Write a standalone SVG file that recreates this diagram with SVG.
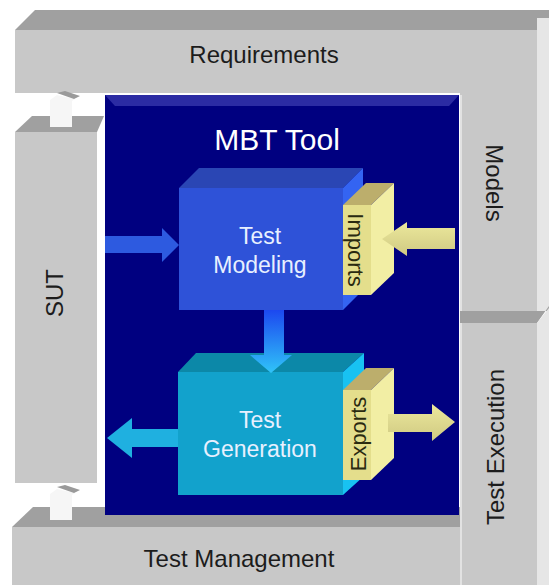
<svg xmlns="http://www.w3.org/2000/svg" width="549" height="585" viewBox="0 0 549 585">
<defs>
<style>
.lbl{font-family:"Liberation Sans",Arial,sans-serif;font-size:24px;fill:#1c1c1c}
.wl{font-family:"Liberation Sans",Arial,sans-serif;font-size:23px;fill:#e8f0ff;text-anchor:middle}
.yl{font-family:"Liberation Sans",Arial,sans-serif;font-size:22px;fill:#2a2a10;text-anchor:middle}
.gf{fill:#c8c8c8}
.gt{fill:#a0a0a0}
.gs{fill:#e6e6e6}
.yf{fill:#e4de8c}
.yt{fill:#bcae6c}
.ys{fill:#f2eea4}
</style>
<linearGradient id="down" x1="0" y1="0" x2="0" y2="1">
<stop offset="0" stop-color="#1c48f0"/>
<stop offset="1" stop-color="#30c4f8"/>
</linearGradient>
<linearGradient id="yarr" x1="0" y1="0" x2="0" y2="1">
<stop offset="0" stop-color="#ece89c"/>
<stop offset="1" stop-color="#cfc982"/>
</linearGradient>
</defs>
<rect width="549" height="585" fill="#ffffff"/>

<g id="requirements">
<polygon class="gt" points="15,30 35,10 549,10 549,18 537,30"/>
<rect class="gf" x="15" y="30" width="522" height="63"/>
<text class="lbl" x="264" y="63" text-anchor="middle">Requirements</text>
</g>

<g id="models">
<rect class="gf" x="460" y="93" width="77" height="218"/>
<rect class="gs" x="537" y="18" width="12" height="293"/>
<line x1="461" y1="95" x2="461" y2="311" stroke="#e2e2e2" stroke-width="2"/>
<text class="lbl" transform="translate(486,183) rotate(90)" text-anchor="middle">Models</text>
</g>

<g id="test-execution">
<polygon class="gt" points="460,311 549,311 549,306 537,323 460,323"/>
<rect class="gf" x="460" y="323" width="77" height="262"/>
<polygon class="gs" points="537,323 549,308 549,585 537,585"/>
<line x1="461" y1="323" x2="461" y2="585" stroke="#e2e2e2" stroke-width="2"/>
<text class="lbl" transform="translate(504,447) rotate(-90)" text-anchor="middle">Test Execution</text>
</g>

<g id="sut">
<polygon class="gt" points="15,132 32,116 104,116 97,132"/>
<rect class="gf" x="15" y="132" width="82" height="351"/>
<text class="lbl" transform="translate(63,293) rotate(-90)" text-anchor="middle">SUT</text>
</g>

<g id="test-management">
<polygon class="gt" points="12,527 33,507 460,507 460,527"/>
<rect class="gf" x="12" y="527" width="448" height="58"/>
<text class="lbl" x="239" y="567" text-anchor="middle">Test Management</text>
</g>

<g id="mbt-tool">
<rect x="105" y="95" width="354" height="420" fill="#000080"/>
<polygon points="105,95 459,95 449,106 115,106" fill="#2b2ba3"/>
<text x="277" y="150" text-anchor="middle" style="font-family:'Liberation Sans',Arial,sans-serif;font-size:30px;fill:#ffffff">MBT Tool</text>
</g>

<g id="test-modeling">
<polygon points="179,188 199,168 363,168 343,188" fill="#2a46b4"/>
<polygon points="343,188 363,168 363,290 343,310" fill="#3464f2"/>
<rect x="179" y="188" width="164" height="122" fill="#2e52d8"/>
<text class="wl" x="260" y="244">Test</text>
<text class="wl" x="260" y="273">Modeling</text>
</g>

<g id="imports">
<polygon class="yt" points="343,205 366,183 394,183 371,205"/>
<polygon class="ys" points="371,205 394,183 394,273 371,295"/>
<rect class="yf" x="343" y="205" width="28" height="90"/>
<text class="yl" transform="translate(348,250) rotate(90)">Imports</text>
</g>

<g id="test-generation">
<polygon points="178,372 196,353 364,353 343,372" fill="#0c88a8"/>
<polygon points="343,372 364,353 364,476 343,495" fill="#18c2f2"/>
<rect x="178" y="372" width="165" height="123" fill="#12a2cc"/>
<text class="wl" x="260" y="428">Test</text>
<text class="wl" x="260" y="457">Generation</text>
</g>

<g id="exports">
<polygon class="yt" points="343,390 366,368 394,368 371,390"/>
<polygon class="ys" points="371,390 394,368 394,458 371,480"/>
<rect class="yf" x="343" y="390" width="28" height="90"/>
<text class="yl" transform="translate(366,434) rotate(-90)">Exports</text>
</g>

<g id="connectors">
<polygon points="105,236 162,236 162,228 179,245 162,262 162,253 105,253" fill="#2d5ae0"/>
<polygon points="455,228 407,228 407,222 382,239 407,256 407,249 455,249" fill="url(#yarr)"/>
<polygon points="264,310 284,310 284,355 292,355 271,373 250,355 264,355" fill="url(#down)"/>
<polygon points="388,414 432,414 432,404 455,422 432,441 432,432 388,432" fill="url(#yarr)"/>
<polygon points="178,429 132,429 132,418 107,438 132,458 132,447 178,447" fill="#1fb0e0"/>
<polygon points="50,127 50,100 57,95 75,99 72,101 72,127" fill="#f6f6f6"/>
<polygon points="57,93 65,91 80,96 74,99" fill="#9a9a9a"/>
<polygon points="50,520 50,494 57,489 75,493 72,495 72,520" fill="#f6f6f6"/>
<polygon points="57,487 65,485 80,490 74,493" fill="#9a9a9a"/>
</g>
</svg>
